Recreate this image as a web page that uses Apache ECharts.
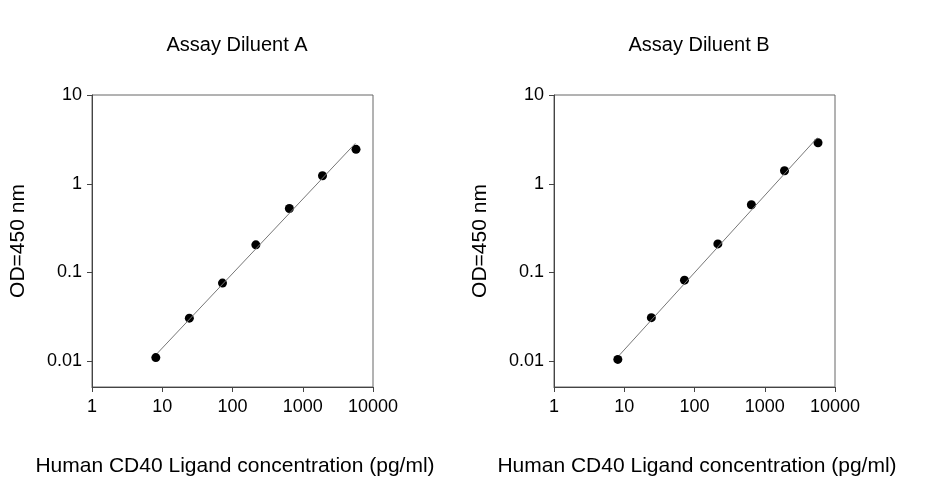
<!DOCTYPE html><html><head><meta charset="utf-8"><script src="https://cdn.jsdelivr.net/npm/echarts@6/dist/echarts.min.js"></script>
<style>body{margin:0}#c{width:926px;height:480px}</style></head><body><div id="c"></div><script>
const titles=['Assay Diluent A','Assay Diluent B'];
const conc=[8.1,24.3,72,215,645,1910,5730];
const odA=[0.011,0.0306,0.076,0.205,0.527,1.23,2.44];
const odB=[0.0105,0.031,0.082,0.21,0.58,1.4,2.9];
const fitX=[8.6,5600];
const fitA=[0.0124,2.85];
const fitB=[0.0118,3.3];
const yTicks=[0.01,0.1,1,10];
const xTitle='Human CD40 Ligand concentration (pg/ml)', yTitle='OD=450 nm';
const F='Liberation Sans, Arial, sans-serif';
const lefts=[92,554];
const grids=lefts.map(l=>({left:l,top:95,width:281,height:292,show:true,borderColor:'#666',borderWidth:1}));
const xAxes=lefts.map((l,i)=>({type:'log',gridIndex:i,min:1,max:10000,logBase:10,
 axisLine:{onZero:false,lineStyle:{color:'#444'}},axisTick:{length:5,inside:false,lineStyle:{color:'#444'}},
 axisLabel:{color:'#000',fontSize:18,fontFamily:F,margin:11,formatter:v=>String(Math.round(v))},splitLine:{show:false},minorTick:{show:false}}));
const yAxes=lefts.map((l,i)=>({type:'value',gridIndex:i,min:-2.29,max:1,
 axisLine:{show:true,onZero:false,lineStyle:{color:'#444'}},
 axisTick:{show:true,length:5,customValues:yTicks.map(Math.log10),lineStyle:{color:'#444'}},
 axisLabel:{color:'#000',fontSize:18,fontFamily:F,margin:10,customValues:yTicks.map(Math.log10),
  formatter:v=>{const r=Math.round(v);return String(yTicks[r+2]);}},splitLine:{show:false}}));
const sets=[[odA,fitA],[odB,fitB]];
const series=[];
sets.forEach((s,i)=>{
 series.push({type:'line',xAxisIndex:i,yAxisIndex:i,data:fitX.map((x,j)=>[x,Math.log10(s[1][j])]),symbol:'none',lineStyle:{color:'#777',width:1},silent:true});
 series.push({type:'scatter',xAxisIndex:i,yAxisIndex:i,data:conc.map((x,j)=>[x,Math.log10(s[0][j])]),symbolSize:9,itemStyle:{color:'#000',opacity:1}});
});
const graphic=[];
const xc=[235,697];
lefts.forEach((l,i)=>{
 graphic.push({type:'text',x:xc[i],y:466,style:{text:xTitle,font:'21px '+F,fill:'#000',align:'center',verticalAlign:'middle'}});
 graphic.push({type:'text',x:l-74,y:241,rotation:Math.PI/2,style:{text:yTitle,font:'21px '+F,fill:'#000',align:'center',verticalAlign:'middle'}});
});
const ch=echarts.init(document.getElementById('c'));
ch.setOption({animation:false,backgroundColor:'#fff',grid:grids,xAxis:xAxes,yAxis:yAxes,series,
 title:titles.map((t,i)=>({text:t,left:lefts[i]+140,top:30,textAlign:'center',textStyle:{fontSize:20,fontWeight:'normal',fontFamily:F,color:'#000'}})),
 graphic});
</script></body></html>
